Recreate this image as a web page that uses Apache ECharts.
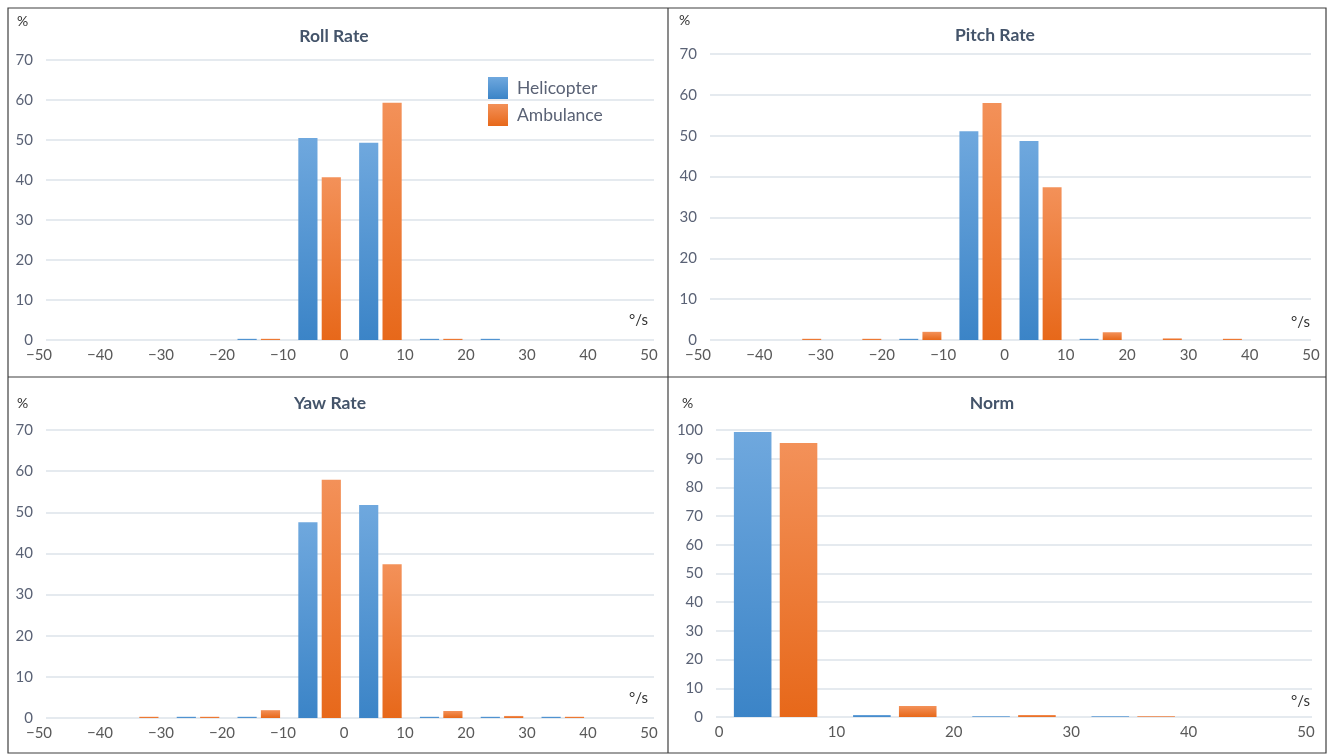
<!DOCTYPE html>
<html>
<head>
<meta charset="utf-8">
<script src="https://cdn.jsdelivr.net/npm/echarts@6/dist/echarts.min.js"></script>
<style>
html,body{margin:0;padding:0;background:#fff;}
#c{width:1327px;height:754px;}
</style>
</head>
<body>
<div id="c"></div>
<script>
// ---- data ----
const rateBins = ['-50~-40','-40~-30','-30~-20','-20~-10','-10~0','0~10','10~20','20~30','30~40','40~50'];
const normBins = ['0~10','10~20','20~30','30~40','40~50'];
const seriesNames = ['Helicopter','Ambulance'];
const panelTitles = ['Roll Rate','Pitch Rate','Yaw Rate','Norm'];

const rollHeli  = [0, 0, 0, 0.3, 50.5, 49.3, 0.3, 0.3, 0, 0];
const rollAmb   = [0, 0, 0, 0.3, 40.7, 59.3, 0.3, 0, 0, 0];
const pitchHeli = [0, 0, 0, 0.3, 51.1, 48.7, 0.3, 0, 0, 0];
const pitchAmb  = [0, 0.3, 0.3, 2.0, 58.0, 37.4, 1.9, 0.4, 0.3, 0];
const yawHeli   = [0, 0, 0.3, 0.3, 47.6, 51.8, 0.3, 0.3, 0.3, 0];
const yawAmb    = [0, 0.3, 0.3, 1.9, 57.9, 37.4, 1.7, 0.5, 0.3, 0];
const normHeli  = [99.3, 0.7, 0.3, 0.3, 0];
const normAmb   = [95.5, 3.8, 0.7, 0.3, 0];

const rateTickRange = [-50, 50];
const normTickRange = [0, 50];
const tickStep = 10;
const rateYMax = 70;
const normYMax = 100;

// ---- styling ----
const FONT = 'Lato, "Open Sans", sans-serif';
const LABEL = '#5A6275';
const GRIDLINE = '#DDE3EA';
const blueGrad = new echarts.graphic.LinearGradient(0,0,0,1,[{offset:0,color:'#6FA8DE'},{offset:1,color:'#3B84C7'}]);
const orangeGrad = new echarts.graphic.LinearGradient(0,0,0,1,[{offset:0,color:'#F39159'},{offset:1,color:'#E7681A'}]);

// plot areas
const grids = [
  {left:46,  top:60,  width:608, height:280},
  {left:710, top:54,  width:601, height:286},
  {left:46,  top:430, width:608, height:288},
  {left:716, top:430, width:596, height:287}
];
// areas spanned by the tick-label scales (labels in the source sit slightly off the bin edges)
const labelGrids = [
  {left:39,  top:60,  width:610, height:280},
  {left:698, top:54,  width:613, height:286},
  {left:39,  top:430, width:610, height:288},
  {left:719, top:430, width:587, height:287}
];
const panels = [
  {bins:rateBins, h:rollHeli,  a:rollAmb,  range:rateTickRange, ymax:rateYMax},
  {bins:rateBins, h:pitchHeli, a:pitchAmb, range:rateTickRange, ymax:rateYMax},
  {bins:rateBins, h:yawHeli,   a:yawAmb,   range:rateTickRange, ymax:rateYMax},
  {bins:normBins, h:normHeli,  a:normAmb,  range:normTickRange, ymax:normYMax}
];

const xAxes = [], yAxes = [], series = [];
panels.forEach((p, i) => {
  xAxes.push({type:'category', gridIndex:i, data:p.bins, show:false, boundaryGap:true});
  yAxes.push({type:'value', gridIndex:i, min:0, max:p.ymax, interval:10,
    axisLine:{show:false}, axisTick:{show:false},
    splitLine:{lineStyle:{color:GRIDLINE, width:1.5}},
    axisLabel:{color:LABEL, fontFamily:FONT, fontSize:15, margin:13}});
  const toData = arr => arr.map(v => v === 0 ? '-' : v);
  const common = {type:'bar', xAxisIndex:i, yAxisIndex:i, barGap:'22%', barCategoryGap:'30%',
    emphasis:{disabled:true}};
  series.push(Object.assign({name:seriesNames[0], data:toData(p.h),
    itemStyle:{color:blueGrad}}, common));
  series.push(Object.assign({name:seriesNames[1], data:toData(p.a),
    itemStyle:{color:orangeGrad}}, common));
});
// tick-label scales
panels.forEach((p, i) => {
  xAxes.push({type:'value', gridIndex:4+i, min:p.range[0], max:p.range[1], interval:tickStep,
    position:'bottom',
    axisLine:{show:false}, axisTick:{show:false}, splitLine:{show:false},
    axisLabel:{color:'#595959', fontFamily:FONT, fontSize:15, margin:8,
      formatter: v => String(v).replace('-', '\u2212')}});
  yAxes.push({type:'value', gridIndex:4+i, min:0, max:1, show:false, splitLine:{show:false}});
});

const titlePos = [[329,22],[990,21],[325,389],[987,389]];
const titles = panelTitles.map((t, i) => ({
  text:t, left:titlePos[i][0], top:titlePos[i][1], textAlign:'center',
  textStyle:{fontFamily:FONT, fontSize:17.5, fontWeight:'bold', color:'#44546A'}
}));

const unitPct = [[23,23],[685,22],[23,405],[688,405]];
const unitDeg = [[638,322],[1300,324],[638,700],[1300,703]];
const graphics = [];
unitPct.forEach(p => graphics.push({type:'text', left:p[0]-6, top:p[1]-9,
  style:{text:'%', font:'14px ' + FONT, fill:'#333'}}));
unitDeg.forEach(p => graphics.push({type:'text', left:p[0]-9, top:p[1]-9,
  style:{text:'\u00B0/s', font:'15px ' + FONT, fill:'#333'}}));
const B = '#3F3F3F';
graphics.push({type:'rect', shape:{x:8, y:8, width:1318, height:745}, style:{fill:'none', stroke:B, lineWidth:1.2}, silent:true});
graphics.push({type:'line', shape:{x1:668, y1:8, x2:668, y2:753}, style:{stroke:B, lineWidth:1.2}, silent:true});
graphics.push({type:'line', shape:{x1:8, y1:377, x2:1326, y2:377}, style:{stroke:B, lineWidth:1.2}, silent:true});

const chart = echarts.init(document.getElementById('c'), null, {renderer:'canvas'});
chart.setOption({
  animation:false,
  backgroundColor:'#fff',
  title:titles,
  legend:{data:seriesNames, orient:'vertical', left:488, top:77, padding:0,
    itemWidth:20, itemHeight:22, itemGap:5, icon:'rect',
    textStyle:{fontFamily:FONT, fontSize:17.5, color:LABEL, padding:[0,0,0,4]}},
  color:['#5B9BD5','#ED7D31'],
  grid:grids.concat(labelGrids),
  xAxis:xAxes,
  yAxis:yAxes,
  series:series,
  graphic:graphics
});
</script>
</body>
</html>
